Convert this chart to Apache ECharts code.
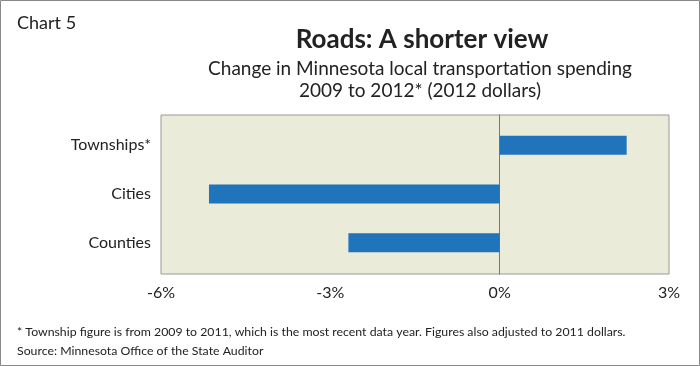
<!DOCTYPE html>
<html><head><meta charset="utf-8">
<script src="https://cdn.jsdelivr.net/npm/echarts@6/dist/echarts.min.js"></script>
<style>html,body{margin:0;padding:0;background:#fff}#c{width:700px;height:366px}</style>
</head><body><div id="c"></div>
<script>
const categories = ['Townships*', 'Cities', 'Counties'];
const values = [2.25, -5.15, -2.68];
const tickLabels = ['-6%', '-3%', '0%', '3%'];
const FONT = 'Lato, "Open Sans", sans-serif';
const chart = echarts.init(document.getElementById('c'), null, {renderer: 'canvas'});
chart.setOption({
  animation: false,
  backgroundColor: '#fff',
  textStyle: {fontFamily: FONT},
  title: [
    {text: 'Chart 5', left: 12, top: 9, textStyle: {fontSize: 18, fontWeight: 'normal', color: '#222', fontFamily: FONT}},
    {text: 'Roads: A shorter view', left: 417, top: 22, textAlign: 'center', textStyle: {fontSize: 26, fontWeight: 'bold', color: '#222', fontFamily: FONT}},
    {text: 'Change in Minnesota local transportation spending\n2009 to 2012* (2012 dollars)', left: 415, top: 53, textAlign: 'center', textStyle: {fontSize: 19, fontWeight: 'normal', color: '#222', lineHeight: 22, fontFamily: FONT}},
    {text: '* Township figure is from 2009 to 2011, which is the most recent data year. Figures also adjusted to 2011 dollars.\nSource: Minnesota Office of the State Auditor', left: 12, top: 318, textStyle: {fontSize: 12.3, fontWeight: 'normal', color: '#222', lineHeight: 19, fontFamily: FONT}}
  ],
  graphic: [{type: 'rect', shape: {x: 0.5, y: 0.5, width: 699, height: 365}, style: {fill: 'none', stroke: '#888', lineWidth: 1}, silent: true}],
  grid: [
    {left: 161, right: 31, top: 115, bottom: 92, show: true, backgroundColor: '#ebebd9', borderColor: '#999', borderWidth: 1},
    {left: 161, right: 31, top: 121, bottom: 99, show: false}
  ],
  xAxis: [
    {
      gridIndex: 0, type: 'value', min: -6, max: 3, interval: 3,
      splitLine: {show: false}, axisLine: {show: false}, axisTick: {show: false},
      axisLabel: {fontSize: 16, color: '#222', margin: 11, fontFamily: FONT,
        formatter: v => tickLabels[Math.round((v + 6) / 3)]}
    },
    {
      gridIndex: 1, type: 'value', min: -6, max: 3, interval: 3, show: false,
      splitLine: {show: false}
    }
  ],
  yAxis: [
    {
      gridIndex: 0, type: 'category', data: categories, inverse: true,
      axisLine: {show: true, onZero: true, lineStyle: {color: '#777', width: 1}},
      axisTick: {show: false}, axisLabel: {show: false}
    },
    {
      gridIndex: 1, type: 'category', data: categories, inverse: true,
      axisLine: {show: false}, axisTick: {show: false},
      axisLabel: {fontSize: 16, color: '#222', margin: 10, padding: [4, 0, 0, 0], fontFamily: FONT}
    }
  ],
  series: [{type: 'bar', xAxisIndex: 1, yAxisIndex: 1, data: values, barWidth: 19, itemStyle: {color: '#1f74bb'}}]
});
</script></body></html>
